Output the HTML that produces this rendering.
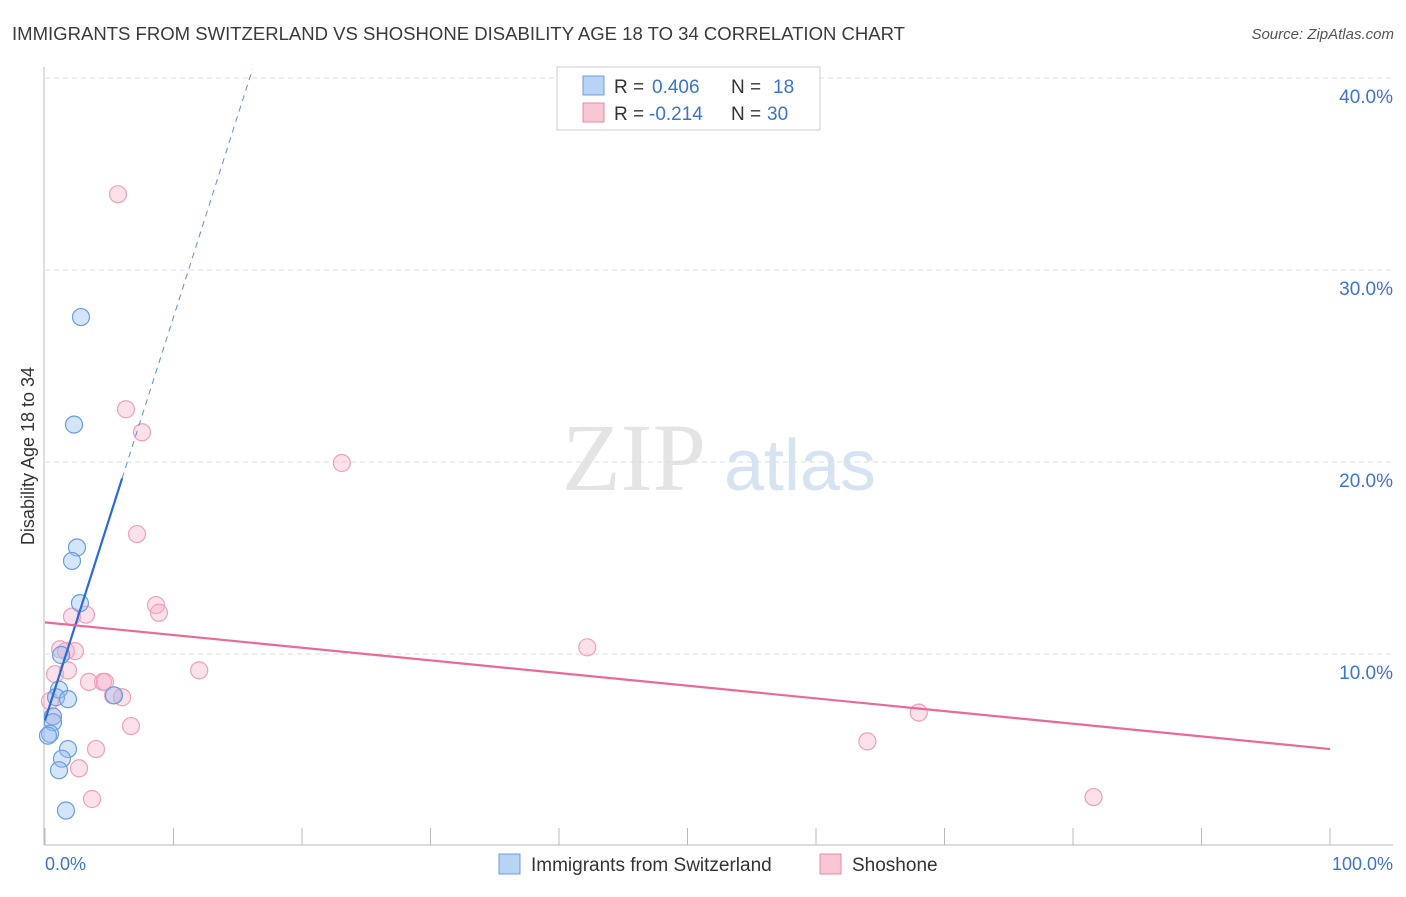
<!DOCTYPE html>
<html><head><meta charset="utf-8"><style>
body{margin:0;background:#fff;font-family:"Liberation Sans",sans-serif}
</style></head><body>
<svg width="1406" height="892" xmlns="http://www.w3.org/2000/svg">
<text x="12" y="40" font-size="18" fill="#3a3a3a" textLength="893" lengthAdjust="spacingAndGlyphs">IMMIGRANTS FROM SWITZERLAND VS SHOSHONE DISABILITY AGE 18 TO 34 CORRELATION CHART</text>
<text x="1394" y="39" font-size="15" fill="#555" font-style="italic" text-anchor="end">Source: ZipAtlas.com</text>
<text x="634" y="490" font-size="96" fill="#e4e4e4" font-family="Liberation Serif" text-anchor="middle">ZIP</text>
<text x="800" y="490" font-size="72" fill="#d6e3f3" text-anchor="middle">atlas</text>
<g id="grid"></g>
<line x1="44" y1="67" x2="44" y2="845" stroke="#bbb"/>
<line x1="44" y1="845" x2="1393" y2="845" stroke="#bbb"/>
<g id="ticks"></g>
<text transform="translate(34,456) rotate(-90)" font-size="18" fill="#333" text-anchor="middle">Disability Age 18 to 34</text>
<text x="45" y="870" font-size="18" fill="#3b73d1">0.0%</text>
<text x="1393" y="870" font-size="18" fill="#3b73d1" text-anchor="end">100.0%</text>
<g id="pts"></g>
<g id="lines"></g>
<g>
<rect x="557" y="67" width="263" height="63" fill="#fff" stroke="#ccc"/>
<rect x="583" y="76" width="21" height="19" fill="#b9d3f5" stroke="#6c9ee0"/>
<rect x="583" y="103" width="21" height="19" fill="#f9c6d4" stroke="#e88aa6"/>
<text x="614" y="93" font-size="19" fill="#333">R = <tspan x="652" fill="#3b73d1">0.406</tspan><tspan x="731">N = </tspan><tspan x="773" fill="#3b73d1">18</tspan></text>
<text x="614" y="120" font-size="19" fill="#333">R = <tspan x="649" fill="#3b73d1">-0.214</tspan><tspan x="731">N = </tspan><tspan x="767" fill="#3b73d1">30</tspan></text>
</g>
<g>
<rect x="499" y="854" width="21" height="20" fill="#b9d3f5" stroke="#6c9ee0"/>
<text x="531" y="871" font-size="19" fill="#333">Immigrants from Switzerland</text>
<rect x="820" y="854" width="21" height="20" fill="#f9c6d4" stroke="#e88aa6"/>
<text x="852" y="871" font-size="19" fill="#333">Shoshone</text>
</g>
</svg>
<script>
const yTicks=[10,20,30,40];
const blueX=[2.8,2.26,2.49,2.1,2.72,1.25,1.09,0.86,1.79,0.62,0.62,0.39,0.23,5.37,1.79,1.32,1.09,1.63];
const blueY=[27.6,22.0,15.6,14.9,12.7,10.0,8.2,7.8,7.7,6.8,6.5,5.9,5.8,7.9,5.1,4.6,4.0,1.9];
const pinkX=[5.68,6.3,7.55,23.1,7.16,8.64,8.87,2.1,3.19,1.17,1.63,2.33,0.78,1.79,3.42,4.51,4.67,5.29,6.0,6.69,42.2,12.0,68.0,64.0,3.97,2.65,3.66,81.6,0.39,0.62];
const pinkY=[34.0,22.8,21.6,20.0,16.3,12.6,12.2,12.0,12.1,10.3,10.2,10.2,9.0,9.2,8.6,8.6,8.6,7.9,7.8,6.3,10.4,9.2,7.0,5.5,5.1,4.1,2.5,2.6,7.6,6.8];
const blueLine=[6.6,2.1];
const pinkLine=[11.7,-0.066];
const X=v=>45+v*12.85, Y=v=>847-v*19.2;
const NS="http://www.w3.org/2000/svg";
function mk(t,a,p){const e=document.createElementNS(NS,t);for(const k in a)e.setAttribute(k,a[k]);p.appendChild(e);return e;}
const grid=document.getElementById('grid');
yTicks.forEach(t=>{
 const l=mk('line',{x1:45,x2:1393,y1:Y(t)-1,y2:Y(t)-1,stroke:'#ddd','stroke-dasharray':'5,4'},grid);
 
 
 const tx=mk('text',{x:1393,y:Y(t)+24,'font-size':19,fill:'#3b73d1','text-anchor':'end'},grid);
 tx.textContent=t.toFixed(1)+'%';
 
 
});
const ticks=document.getElementById('ticks');
for(let i=0;i<=10;i++){
 const l=mk('line',{x1:X(i*10),x2:X(i*10),y1:828,y2:845,stroke:'#bbb'},ticks);
 
 
}
const pts=document.getElementById('pts');
pinkX.forEach((x,i)=>{
 const c=mk('circle',{cx:X(x),cy:Y(pinkY[i]),r:8.5,fill:'rgba(246,170,195,0.35)',stroke:'#eea2ba','stroke-width':1.2},pts);
 
 
});
blueX.forEach((x,i)=>{
 const c=mk('circle',{cx:X(x),cy:Y(blueY[i]),r:8.5,fill:'rgba(150,190,240,0.4)',stroke:'#6a9de0','stroke-width':1.2},pts);
 
 
});
const lines=document.getElementById('lines');
let l=mk('line',{x1:X(0),y1:Y(blueLine[0]),x2:X(6),y2:Y(blueLine[0]+6*blueLine[1]),stroke:'#2b6bd8','stroke-width':2.2},lines);


const xe=(40.5-blueLine[0])/blueLine[1];
l=mk('line',{x1:X(6),y1:Y(blueLine[0]+6*blueLine[1]),x2:X(xe),y2:Y(40.5),stroke:'#5b8fe0','stroke-width':1,'stroke-dasharray':'6,5'},lines);


l=mk('line',{x1:X(0),y1:Y(pinkLine[0]),x2:X(100),y2:Y(pinkLine[0]+100*pinkLine[1]),stroke:'#e8699a','stroke-width':2.2},lines);


</script>
</body></html>
